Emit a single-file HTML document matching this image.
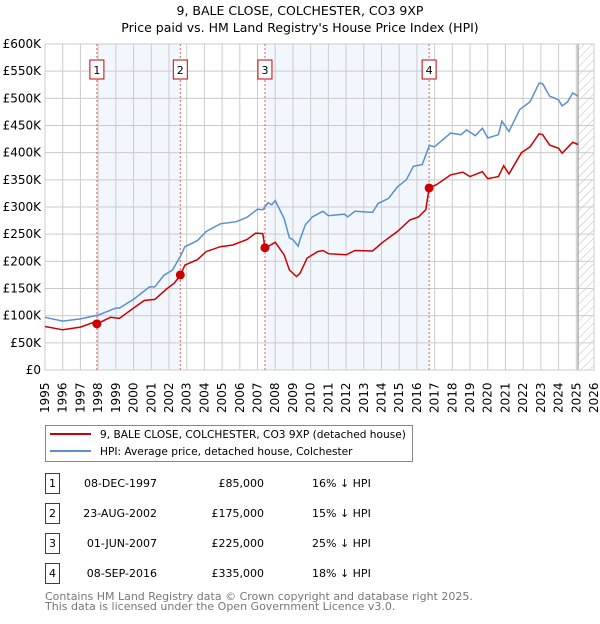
<!DOCTYPE html>
<html><head><meta charset="utf-8"><style>
body{margin:0;background:#fff;font-family:"DejaVu Sans","Liberation Sans",sans-serif}
svg text{font-family:"DejaVu Sans","Liberation Sans",sans-serif}
</style></head><body>
<svg id="c" width="600" height="620" xmlns="http://www.w3.org/2000/svg">
<text x="300" y="15" text-anchor="middle" font-size="12.5">9, BALE CLOSE, COLCHESTER, CO3 9XP</text>
<text x="300" y="32" text-anchor="middle" font-size="12.5">Price paid vs. HM Land Registry's House Price Index (HPI)</text>
<g id="plot"></g>
<g>
<rect x="45.5" y="425.5" width="367" height="36" fill="#fff" stroke="#888"/>
<line x1="50" y1="434" x2="91" y2="434" stroke="#cc0000" stroke-width="2"/>
<text x="100" y="438" font-size="10.6">9, BALE CLOSE, COLCHESTER, CO3 9XP (detached house)</text>
<line x1="50" y1="451" x2="91" y2="451" stroke="#5b8fd0" stroke-width="2"/>
<text x="100" y="455" font-size="10.6">HPI: Average price, detached house, Colchester</text>
</g>
<g id="tbl" font-size="11"></g>
<text x="45" y="600" font-size="11" fill="#777">Contains HM Land Registry data © Crown copyright and database right 2025.</text>
<text x="45" y="610" font-size="11" fill="#777">This data is licensed under the Open Government Licence v3.0.</text>
</svg>
<script>
const hpiYears=[1995,1996,1997,1998,1999,1999.2,2000,2000.9,2001.2,2001.7,2002.2,2002.64,2002.9,2003.6,2004.1,2004.9,2005.8,2006.4,2007.0,2007.3,2007.6,2007.8,2008.0,2008.5,2008.8,2009.0,2009.3,2009.4,2009.7,2010.1,2010.7,2011.0,2011.9,2012.1,2012.5,2013.5,2013.8,2014.4,2014.9,2015.4,2015.8,2016.3,2016.7,2017.0,2017.9,2018.5,2018.8,2019.3,2019.7,2020.0,2020.6,2020.8,2021.2,2021.8,2022.4,2022.9,2023.1,2023.5,2023.8,2024.0,2024.2,2024.5,2024.8,2025.1];
const hpiValues=[97,90,94,101,114,114,130,153,153,174,184,209,227,238,255,269,273,281,296,295,308,304,312,279,243,240,228,240,267,282,292,284,287,282,292,290,306,316,337,350,375,378,413,411,436,433,442,431,445,427,433,458,439,479,494,528,527,504,500,497,486,493,510,504];
const priceYears=[1995,1996,1997,1997.7,1997.93,1998.7,1999.2,2000,2000.6,2001.2,2001.9,2002.3,2002.64,2002.9,2003.6,2004.1,2004.9,2005.6,2006.4,2006.9,2007.3,2007.42,2008.0,2008.5,2008.8,2009.2,2009.4,2009.8,2010.4,2010.7,2011.0,2012.0,2012.5,2013.5,2014.1,2014.9,2015.6,2016.1,2016.5,2016.69,2017.1,2017.9,2018.6,2019.0,2019.7,2020.0,2020.6,2020.9,2021.2,2021.9,2022.4,2022.9,2023.1,2023.5,2024.0,2024.2,2024.8,2025.1];
const priceValues=[80,74,79,87,85,97,95,114,128,130,150,160,174,193,203,218,227,230,240,252,251,224,235,212,184,172,178,206,218,220,214,212,220,219,236,255,276,282,295,335,341,359,364,356,365,352,356,376,361,400,411,435,433,414,408,399,419,415];
const saleYears=[1997.93,2002.64,2007.42,2016.69];
const salePrices=[85,175,225,335];
const saleLabels=["1","2","3","4"];
const saleDates=["08-DEC-1997","23-AUG-2002","01-JUN-2007","08-SEP-2016"];
const salePriceText=["£85,000","£175,000","£225,000","£335,000"];
const saleDiff=["16% ↓ HPI","15% ↓ HPI","25% ↓ HPI","18% ↓ HPI"];
const yTicks=[0,50,100,150,200,250,300,350,400,450,500,550,600];
const yTickLabels=["£0","£50K","£100K","£150K","£200K","£250K","£300K","£350K","£400K","£450K","£500K","£550K","£600K"];
const xTicks=[1995,1996,1997,1998,1999,2000,2001,2002,2003,2004,2005,2006,2007,2008,2009,2010,2011,2012,2013,2014,2015,2016,2017,2018,2019,2020,2021,2022,2023,2024,2025,2026];
const X0=45,X1=594,Y0=370,Y1=44,dataEnd=2025.1;
const xs=y=>X0+(y-1995)/(2026-1995)*(X1-X0);
const ys=v=>Y0-v/600*(Y0-Y1);
const NS="http://www.w3.org/2000/svg";
const plot=document.getElementById('plot');
function mk(tag,attrs,parent){const e=document.createElementNS(NS,tag);for(const k in attrs)e.setAttribute(k,attrs[k]);(parent||plot).appendChild(e);return e;}
for(const [a,b] of [[0,1],[2,3]]){
 const r=mk('rect',{x:xs(saleYears[a]),y:Y1,width:xs(saleYears[b])-xs(saleYears[a]),height:Y0-Y1,fill:'#f2f6fd'});
 
 
}
const defs=mk('defs',{});
const pat=mk('pattern',{id:'h',width:6,height:6,patternUnits:'userSpaceOnUse',patternTransform:'rotate(45)'},defs);
mk('line',{x1:0,y1:0,x2:0,y2:6,stroke:'#bbb','stroke-width':1},pat);
const hr=mk('rect',{x:xs(dataEnd),y:Y1,width:X1-xs(dataEnd),height:Y0-Y1,fill:'url(#h)'});


yTicks.forEach((t,i)=>{
 const l=mk('line',{x1:X0,x2:X1,y1:ys(t),y2:ys(t),stroke:'#ccc','stroke-width':1});
 
 
 const tx=mk('text',{x:X0-4,y:ys(t)+4,'text-anchor':'end','font-size':12});
 tx.textContent=yTickLabels[i];
 
 
});
xTicks.forEach(t=>{
 const l=mk('line',{x1:xs(t),x2:xs(t),y1:Y1,y2:Y0,stroke:'#ccc','stroke-width':1});
 
 
 const tx=mk('text',{x:0,y:0,'font-size':12,transform:`translate(${xs(t)+4},${Y0+43}) rotate(-90)`});
 tx.textContent=t;
 
 
});
const el=mk('line',{x1:xs(dataEnd),x2:xs(dataEnd),y1:Y1,y2:Y0,stroke:'#999','stroke-width':1.2});


const fr=mk('rect',{x:X0,y:Y1,width:X1-X0,height:Y0-Y1,fill:'none',stroke:'#ccc'});


saleYears.forEach((y,i)=>{
 const l=mk('line',{x1:xs(y),x2:xs(y),y1:Y1,y2:Y0,stroke:'#e06060','stroke-width':1,'stroke-dasharray':'2,2'});
 
 
 const b=mk('rect',{x:xs(y)-7,y:60,width:14,height:19,fill:'#fff',stroke:'#cc0000'});
 
 
 const t=mk('text',{x:xs(y),y:74,'text-anchor':'middle','font-size':11});
 t.textContent=saleLabels[i];
 
 
});
function pathOf(xa,va){return xa.map((x,i)=>(i?'L':'M')+xs(x).toFixed(1)+','+ys(va[i]).toFixed(1)).join('');}
const hp=mk('path',{d:pathOf(hpiYears,hpiValues),fill:'none',stroke:'#5b8fd0','stroke-width':1.5});


const pp=mk('path',{d:pathOf(priceYears,priceValues),fill:'none',stroke:'#cc0000','stroke-width':1.5});


saleYears.forEach((y,i)=>{
 const c=mk('circle',{cx:xs(y),cy:ys(salePrices[i]),r:4.5,fill:'#cc0000'});
 
 
});
const tbl=document.getElementById('tbl');
saleLabels.forEach((s,i)=>{
 const cy=483+i*30;
 const b=mk('rect',{x:45.5,y:cy-9.5,width:14,height:20,fill:'#fff',stroke:'#cc0000'},tbl);
 
 
 const t0=mk('text',{x:52.5,y:cy+4,'text-anchor':'middle'},tbl);t0.textContent=s;
 
 
 const t1=mk('text',{x:157,y:cy+4,'text-anchor':'end'},tbl);t1.textContent=saleDates[i];
 
 
 const t2=mk('text',{x:264,y:cy+4,'text-anchor':'end'},tbl);t2.textContent=salePriceText[i];
 
 
 const t3=mk('text',{x:312,y:cy+4},tbl);t3.textContent=saleDiff[i];
 
 
});
</script>
</body></html>
